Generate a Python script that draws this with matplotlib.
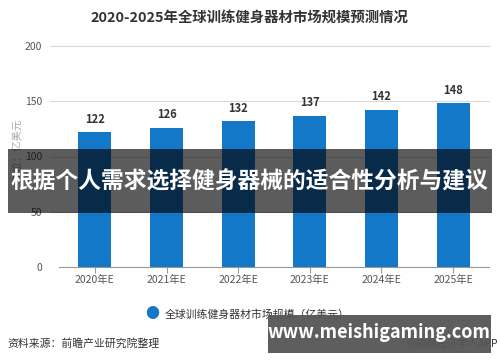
import matplotlib
matplotlib.use("Agg")
import matplotlib.pyplot as plt
from matplotlib.patches import Rectangle

plt.rcParams['font.family'] = ['Noto Sans CJK SC', 'DejaVu Sans']

categories = ["2020年E", "2021年E", "2022年E", "2023年E", "2024年E", "2025年E"]
values = [122, 126, 132, 137, 142, 148]
yticks = [0, 50, 100, 150, 200]

W, H = 500, 362
fig = plt.figure(figsize=(5, 3.62), dpi=100)
ax = fig.add_axes([59 / W, 1 - 267 / H, (489 - 59) / W, (267 - 46) / H])

x = list(range(len(categories)))
ax.bar(x, values, width=0.46, color="#1478c8", zorder=3)
for xi, v in zip(x, values):
    ax.text(xi, v + 6, str(v), ha="center", va="bottom", fontsize=8,
            fontweight="bold", color="#333333")

ax.set_xlim(-0.5, len(categories) - 0.5)
ax.set_ylim(0, 200)
ax.set_yticks(yticks)
ax.set_yticklabels([str(t) for t in yticks], fontsize=7.5, color="#555555")
ax.set_xticks(x)
ax.set_xticklabels(categories, fontsize=7.5, color="#555555")
ax.tick_params(axis="y", length=0, pad=12)
ax.tick_params(axis="x", length=4, color="#999999", pad=2)
for t in yticks[1:]:
    ax.axhline(t, xmin=-9 / 430, xmax=1, color="#d9d9d9", linewidth=0.8,
               zorder=0, clip_on=False)
for s in ["top", "right", "left"]:
    ax.spines[s].set_visible(False)
ax.spines["bottom"].set_color("#999999")

fig.text(0.498, 1 - 18 / H, "2020-2025年全球训练健身器材市场规模预测情况",
         ha="center", va="center", fontsize=10.4, fontweight="bold", color="#333333")
fig.text(18 / W, 1 - 150 / H, "单位：亿美元", rotation=90, ha="center", va="center",
         fontsize=7.5, color="#aaaaaa")

# legend
fig.text(152 / W, 1 - 314 / H, "●", ha="center", va="center", fontsize=10,
         color="#1478c8")
fig.text(165 / W, 1 - 314 / H, "全球训练健身器材市场规模（亿美元）", ha="left",
         va="center", fontsize=7.8, color="#333333")

fig.text(7 / W, 1 - 343 / H, "资料来源：前瞻产业研究院整理", ha="left", va="center",
         fontsize=7.8, color="#333333")
fig.text(498 / W, 1 - 343 / H, "@前瞻经济学人APP", ha="right", va="center",
         fontsize=7.5, color="#333333")

# overlay banners
fig.patches.append(Rectangle((8 / W, 1 - 213 / H), (492 - 8) / W, (213 - 149) / H,
                             transform=fig.transFigure, facecolor="black",
                             alpha=0.64, edgecolor="none", zorder=10))
fig.text(249 / W, 1 - 182 / H, "根据个人需求选择健身器械的适合性分析与建议",
         ha="center", va="center", fontsize=16.4, fontweight="bold",
         color="white", zorder=11)
fig.patches.append(Rectangle((268 / W, 1 - 353 / H), (491 - 268) / W, (353 - 315) / H,
                             transform=fig.transFigure, facecolor="#555555",
                             alpha=0.95, edgecolor="none", zorder=10))
fig.text(379 / W, 1 - 333 / H, "www.meishigaming.com", ha="center", va="center",
         fontsize=13, fontweight="bold", color="white", zorder=11)

fig.savefig("out.png", dpi=100)
